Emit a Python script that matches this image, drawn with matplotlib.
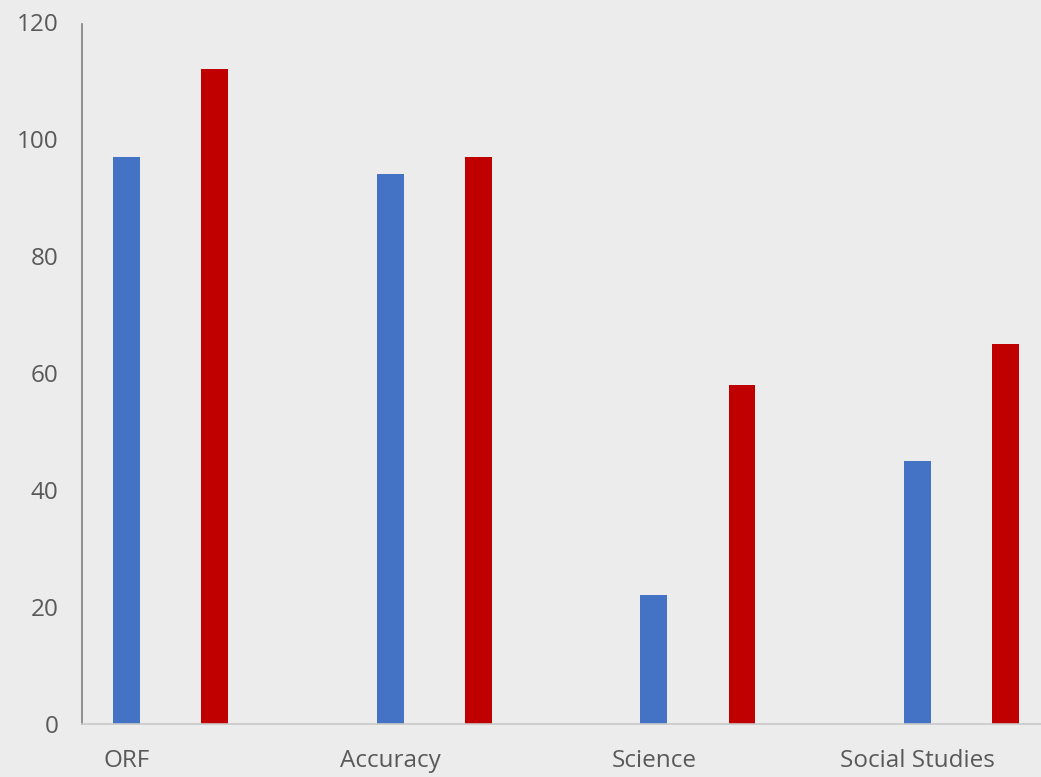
import matplotlib.pyplot as plt
import numpy as np

categories = ['ORF', 'Accuracy', 'Science', 'Social Studies']
blue_values = [97, 94, 22, 45]
red_values = [112, 97, 58, 65]
y_ticks = [0, 20, 40, 60, 80, 100, 120]

plt.rcParams['font.family'] = ['Open Sans', 'DejaVu Sans']

fig = plt.figure(figsize=(10.41, 7.77), dpi=100)
fig.patch.set_facecolor('#ececec')
ax = fig.add_axes([0.0788, 0.0682, 0.9212, 0.9035])
ax.set_facecolor('#ececec')

x = np.arange(len(categories))
width = 0.102
ax.bar(x, blue_values, width, color='#4472c4')
ax.bar(x + 0.334, red_values, width, color='#c00000')

ax.set_xlim(-0.169, 3.468)
ax.set_ylim(0, 120)
ax.set_yticks(y_ticks)
ax.set_xticks(x)
ax.set_xticklabels(categories)
ax.tick_params(axis='both', length=0, labelsize=17.5, colors='#595959')
ax.tick_params(axis='y', pad=17)
ax.tick_params(axis='x', pad=18)

for side in ['top', 'right']:
    ax.spines[side].set_visible(False)
ax.spines['left'].set_color('#7f7f7f')
ax.spines['left'].set_linewidth(1.2)
ax.spines['left'].set_bounds(0, 119.6)
ax.spines['bottom'].set_color('#c8c8c8')
ax.spines['bottom'].set_linewidth(1.2)

fig.savefig('out.png', dpi=100, facecolor=fig.get_facecolor())
